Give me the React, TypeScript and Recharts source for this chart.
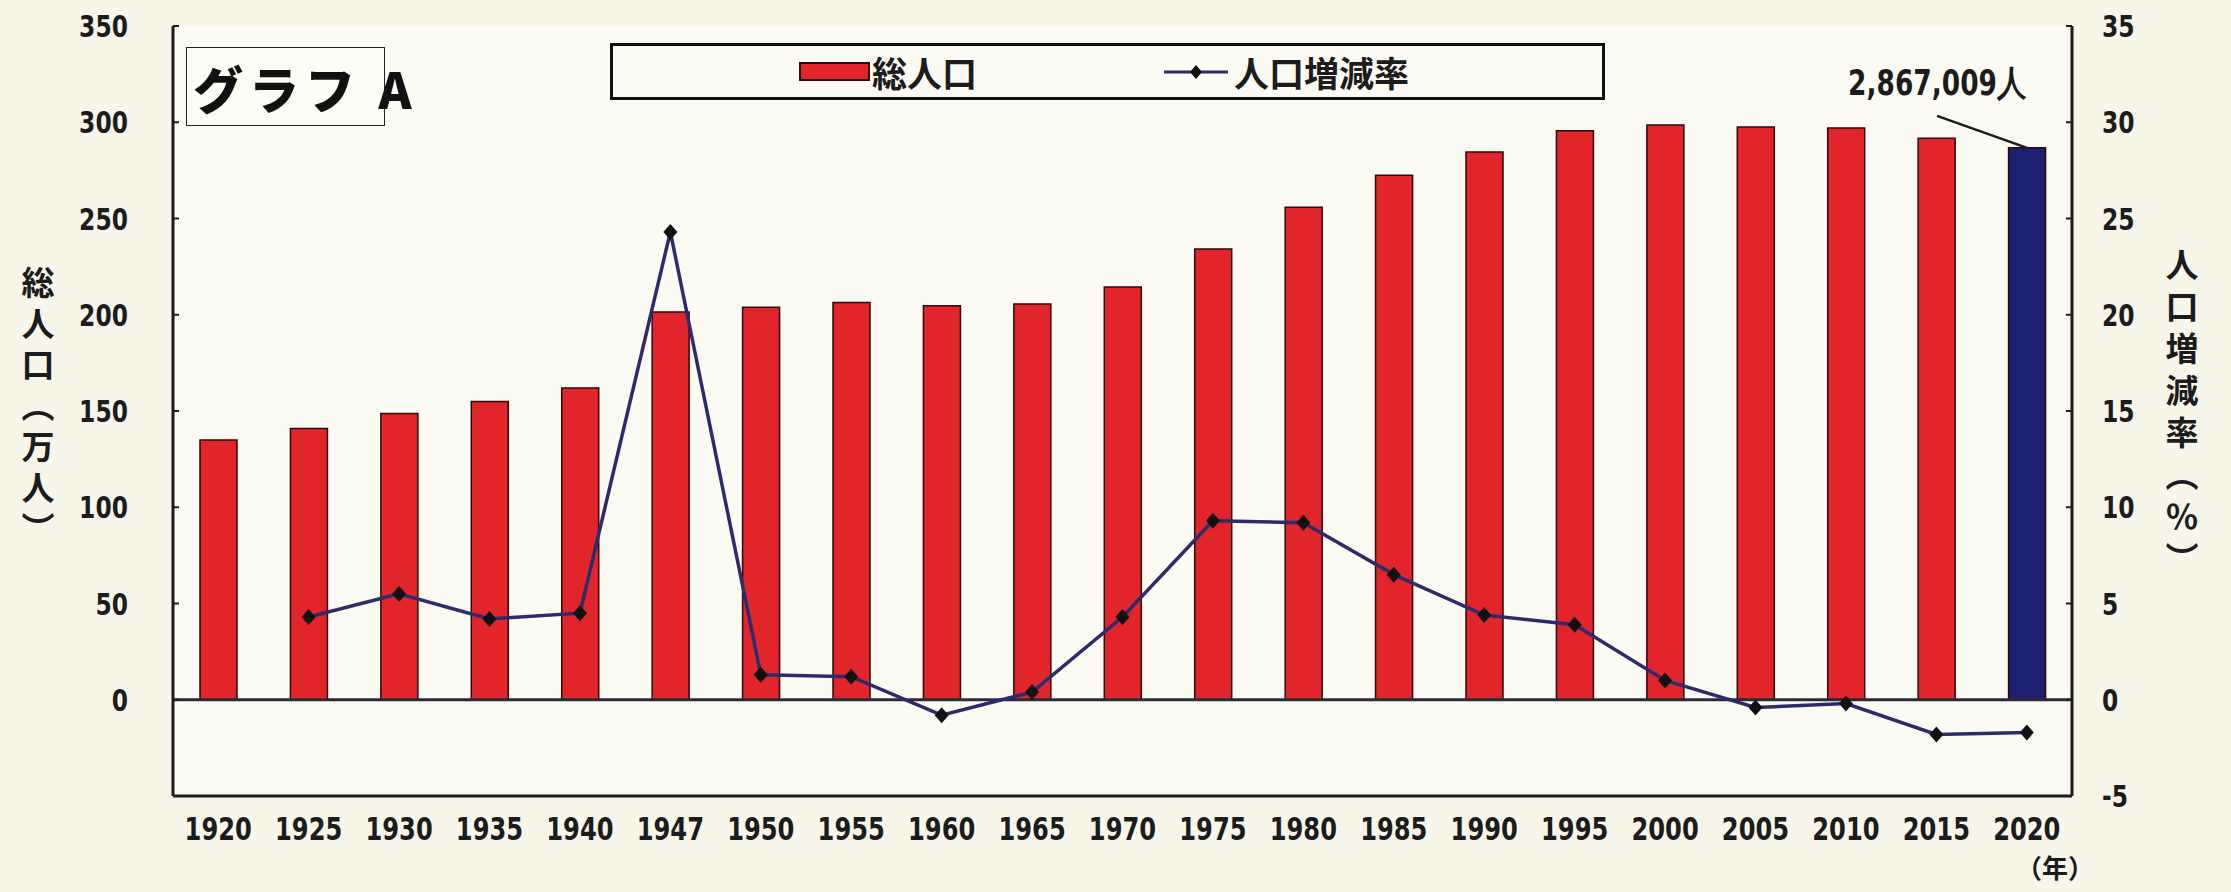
import React from "react";
import {
  Bar,
  CartesianGrid,
  Cell,
  ComposedChart,
  Legend,
  Line,
  ReferenceLine,
  XAxis,
  YAxis,
} from "recharts";

const YEARS = ["1920", "1925", "1930", "1935", "1940", "1947", "1950", "1955", "1960", "1965", "1970", "1975", "1980", "1985", "1990", "1995", "2000", "2005", "2010", "2015", "2020"];
// 総人口 (万人)
const POPULATION = [135.0, 140.9, 148.7, 154.9, 162.0, 201.4, 203.9, 206.4, 204.7, 205.6, 214.4, 234.2, 255.8, 272.5, 284.5, 295.6, 298.6, 297.5, 297.0, 291.7, 286.7];
// 人口増減率 (%)
const RATE = [null, 4.3, 5.5, 4.2, 4.5, 24.3, 1.3, 1.2, -0.8, 0.4, 4.3, 9.3, 9.2, 6.5, 4.4, 3.9, 1.0, -0.4, -0.2, -1.8, -1.7];
const LEFT_TICKS = [-50, 0, 50, 100, 150, 200, 250, 300, 350];
const RIGHT_TICKS = [-5, 0, 5, 10, 15, 20, 25, 30, 35];
const LATEST_LABEL = "2,867,009人";

const data = YEARS.map((year, i) => ({ year, pop: POPULATION[i], rate: RATE[i] }));

const RED = "#e2242b";
const NAVY = "#1d1f70";
const LINE = "#2e2b6c";
const INK = "#1c1c1c";
const NUM_FONT = "'Liberation Sans Narrow', 'DejaVu Sans Condensed', 'Liberation Sans', sans-serif";
const JP_FONT = "'Noto Sans CJK JP', 'Noto Sans', sans-serif";
const SQUEEZE = 0.84;

const NumText = ({ x, y, anchor, size, children }: any) => (
  <text
    transform={`translate(${x},${y}) scale(${SQUEEZE},1)`}
    textAnchor={anchor}
    fontFamily={NUM_FONT}
    fontWeight="bold"
    fontSize={size}
    fill={INK}
  >
    {children}
  </text>
);

const LeftTick = (props: any) => {
  const { x, y, payload } = props;
  if (payload.value < 0) return null;
  return (
    <g>
      <line x1={x + 45} x2={x + 51} y1={y} y2={y} stroke={INK} strokeWidth={2} />
      <NumText x={x} y={y + 11} anchor="end" size={31}>
        {payload.value}
      </NumText>
    </g>
  );
};

const RightTick = (props: any) => {
  const { x, y, payload } = props;
  return (
    <g>
      <line x1={x - 30} x2={x - 36} y1={y} y2={y} stroke={INK} strokeWidth={2} />
      <NumText x={x} y={y + 11} anchor="start" size={31}>
        {payload.value}
      </NumText>
    </g>
  );
};

const XTick = (props: any) => {
  const { x, y, payload } = props;
  return (
    <NumText x={x} y={y + 42} anchor="middle" size={32}>
      {payload.value}
    </NumText>
  );
};

const Diamond = (props: any) => {
  const { cx, cy, value } = props;
  if (cx == null || cy == null || value == null) return null;
  return <path key={`d-${cx}`} d={`M${cx},${cy - 8} L${cx + 7},${cy} L${cx},${cy + 8} L${cx - 7},${cy} Z`} fill="#111" />;
};

const LatestLabel = (props: any) => {
  const { x, y, width, index } = props;
  if (index !== POPULATION.length - 1) return null;
  const cx = x + width / 2;
  return (
    <g>
      <line x1={cx - 90} y1={y - 32} x2={cx} y2={y} stroke={INK} strokeWidth={2.5} />
      <NumText x={cx - 90} y={y - 53} anchor="middle" size={35}>
        {LATEST_LABEL}
      </NumText>
    </g>
  );
};

const LegendBox = () => (
  <div
    style={{
      width: 989,
      height: 51,
      border: "3px solid #111",
      background: "#fcfbf3",
      display: "flex",
      alignItems: "center",
      fontFamily: JP_FONT,
      fontWeight: 700,
      fontSize: 35,
      color: INK,
      boxSizing: "content-box",
    }}
  >
    <div style={{ width: 67, height: 15, background: RED, border: "2px solid #2a0a0a", marginLeft: 186 }} />
    <span style={{ marginLeft: 2 }}>総人口</span>
    <svg width={64} height={20} style={{ marginLeft: 187 }}>
      <line x1={0} x2={64} y1={10} y2={10} stroke={LINE} strokeWidth={3} />
      <path d="M32,3 L38,10 L32,17 L26,10 Z" fill="#111" />
    </svg>
    <span style={{ marginLeft: 6 }}>人口増減率</span>
  </div>
);

export default function App() {
  return (
    <div style={{ position: "absolute", left: 0, top: 0, width: 2231, height: 892, background: "#f7f6e8", overflow: "hidden" }}>
      <ComposedChart width={2231} height={892} data={data} margin={{ top: 26, right: 0, bottom: 0, left: 0 }}>
        <CartesianGrid horizontal={false} vertical={false} fill="#fcfbf3" />
        <XAxis
          dataKey="year"
          height={96}
          tick={<XTick />}
          tickLine={false}
          tickSize={0}
          axisLine={{ stroke: INK, strokeWidth: 3 }}
          interval={0}
        />
        <XAxis xAxisId="top" orientation="top" dataKey="year" height={0} tick={false} tickLine={false} axisLine={{ stroke: INK, strokeWidth: 3 }} />
        <YAxis
          yAxisId="left"
          width={173}
          domain={[-50, 350]}
          ticks={LEFT_TICKS}
          tick={<LeftTick />}
          tickLine={false}
          tickSize={0}
          tickMargin={45}
          axisLine={{ stroke: INK, strokeWidth: 3 }}
          interval={0}
        />
        <YAxis
          yAxisId="right"
          orientation="right"
          width={159}
          domain={[-5, 35]}
          ticks={RIGHT_TICKS}
          tick={<RightTick />}
          tickLine={false}
          tickSize={0}
          tickMargin={30}
          axisLine={{ stroke: INK, strokeWidth: 3 }}
          interval={0}
        />
        <Legend
          content={<LegendBox />}
          layout="horizontal"
          verticalAlign="middle"
          align="center"
          wrapperStyle={{ position: "absolute", left: 610, top: 43, width: 995, height: 57 }}
        />
        <ReferenceLine yAxisId="left" y={0} stroke="#2a2a3a" strokeWidth={3} />
        <Bar
          yAxisId="left"
          dataKey="pop"
          name="総人口"
          barSize={37}
          stroke="#2a0a0a"
          strokeWidth={1.5}
          isAnimationActive={false}
          label={<LatestLabel />}
        >
          {data.map((d, i) => (
            <Cell key={d.year} fill={i === data.length - 1 ? NAVY : RED} />
          ))}
        </Bar>
        <Line
          yAxisId="right"
          dataKey="rate"
          name="人口増減率"
          stroke={LINE}
          strokeWidth={3.5}
          dot={<Diamond />}
          activeDot={false}
          isAnimationActive={false}
        />
      </ComposedChart>

      <div
        style={{
          position: "absolute",
          left: 186,
          top: 47,
          width: 199,
          height: 79,
          border: "1.5px solid #222",
          background: "#fdfdf6",
          fontFamily: JP_FONT,
          fontWeight: 900,
          fontSize: 50,
          lineHeight: "79px",
          letterSpacing: 6,
          paddingLeft: 6,
          color: "#111",
          boxSizing: "border-box",
          whiteSpace: "nowrap",
        }}
      >
        グラフ A
      </div>

      <div
        style={{
          position: "absolute",
          left: 18,
          top: 266,
          writingMode: "vertical-rl",
          fontFamily: JP_FONT,
          fontWeight: 700,
          fontSize: 33,
          lineHeight: "40px",
          letterSpacing: 8,
          color: INK,
        }}
      >
        総人口（万人）
      </div>

      <div
        style={{
          position: "absolute",
          left: 2162,
          top: 248,
          writingMode: "vertical-rl",
          fontFamily: JP_FONT,
          fontWeight: 700,
          fontSize: 33,
          lineHeight: "40px",
          letterSpacing: 9,
          color: INK,
        }}
      >
        人口増減率（％）
      </div>

      <div
        style={{
          position: "absolute",
          left: 2016,
          top: 852,
          fontFamily: JP_FONT,
          fontWeight: 700,
          fontSize: 26,
          lineHeight: "30px",
          color: INK,
        }}
      >
        （年）
      </div>
    </div>
  );
}
